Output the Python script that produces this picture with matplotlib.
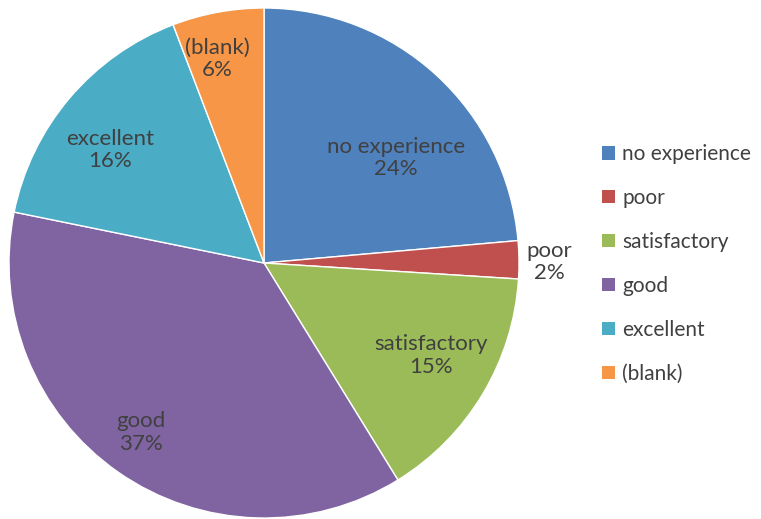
import numpy as np
import matplotlib.pyplot as plt
from matplotlib.patches import Patch

categories = ["no experience", "poor", "satisfactory", "good", "excellent", "(blank)"]
shares = [23.6, 2.4, 15.2, 37.0, 16.0, 5.8]
pct_labels = ["24%", "2%", "15%", "37%", "16%", "6%"]
colors = ["#4F81BD", "#C0504D", "#9BBB59", "#8064A2", "#4BACC6", "#F79646"]

# label placement: radius as a fraction of the pie radius, angle tweak in degrees
label_r = [0.66, 1.12, 0.75, 0.82, 0.75, 0.82]
label_dang = [-9, -0.5, 2, -1, 4, 2.5]

plt.rcParams['font.family'] = ['Lato', 'DejaVu Sans']
text_color = "#404040"

W, H = 761, 519
fig = plt.figure(figsize=(W / 100, H / 100), dpi=100)
cx, cy, R = 264, 263, 255
ax = fig.add_axes([(cx - R) / W, (H - cy - R) / H, 2 * R / W, 2 * R / H])

wedges, _ = ax.pie(shares, colors=colors, startangle=90, counterclock=False,
                   radius=1.0, wedgeprops=dict(edgecolor="white", linewidth=1.0))
ax.set_xlim(-1, 1)
ax.set_ylim(-1, 1)
ax.set_aspect("equal")
ax.axis("off")

for w, name, pct, r, da in zip(wedges, categories, pct_labels, label_r, label_dang):
    mid = np.deg2rad((w.theta1 + w.theta2) / 2 + da)
    ax.text(r * np.cos(mid), r * np.sin(mid), f"{name}\n{pct}", ha="center", va="center",
            fontsize=16, color=text_color, linespacing=1.15, clip_on=False)

handles = [Patch(facecolor=c, edgecolor="none") for c in colors]
fig.legend(handles, categories, loc="center left", bbox_to_anchor=(602 / W, 1 - 264 / H),
           frameon=False, fontsize=15, labelcolor=text_color, handlelength=0.62,
           handleheight=0.62, handletextpad=0.35, labelspacing=1.15, borderpad=0,
           borderaxespad=0)

fig.savefig("out.png", dpi=100)
